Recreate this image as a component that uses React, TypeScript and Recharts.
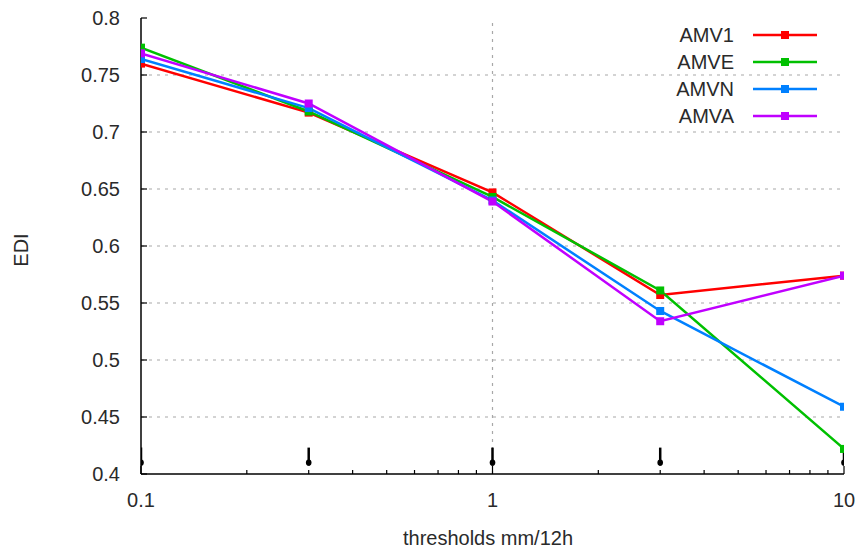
import React from "react";
import {
  ComposedChart,
  Line,
  Scatter,
  XAxis,
  YAxis,
  ReferenceLine,
  Legend,
} from "recharts";

const thresholds = [0.1, 0.3, 1, 3, 10];
const amv1 = [0.76, 0.717, 0.647, 0.557, 0.574];
const amve = [0.774, 0.718, 0.643, 0.561, 0.422];
const amvn = [0.764, 0.721, 0.64, 0.543, 0.459];
const amva = [0.769, 0.725, 0.639, 0.534, 0.574];
const markerLevel = [0.41, 0.41, 0.41, 0.41, 0.41];

const xTicks = [
  0.1, 0.2, 0.3, 0.4, 0.5, 0.6, 0.7, 0.8, 0.9, 1, 2, 3, 4, 5, 6, 7, 8, 9, 10,
];
const xLabels = [0.1, 1, 10];
const yTicks = [0.4, 0.45, 0.5, 0.55, 0.6, 0.65, 0.7, 0.75, 0.8];
const gridY = [0.45, 0.5, 0.55, 0.6, 0.65, 0.7, 0.75];

const series = [
  { key: "amv1", name: "AMV1", color: "#ff0000" },
  { key: "amve", name: "AMVE", color: "#00c000" },
  { key: "amvn", name: "AMVN", color: "#0080ff" },
  { key: "amva", name: "AMVA", color: "#c000ff" },
];

const data = thresholds.map((x, i) => ({
  x,
  amv1: amv1[i],
  amve: amve[i],
  amvn: amvn[i],
  amva: amva[i],
}));
const markers = thresholds.map((x, i) => ({ x, y: markerLevel[i] }));

const FONT = "'Liberation Sans', Arial, sans-serif";
const TEXT = "#2a2a2a";
const FS = 20;

const BottomTick = (props: any) => {
  const { x, y, payload } = props;
  const major = xLabels.includes(payload.value);
  return (
    <g>
      <line x1={x} x2={x} y1={y} y2={y - (major ? 8 : 4)} stroke="#000" strokeWidth={1.2} />
      {major && (
        <text x={x} y={y + 33} textAnchor="middle" fontSize={FS} fontFamily={FONT} fill={TEXT}>
          {payload.value}
        </text>
      )}
    </g>
  );
};

const TopTick = (props: any) => {
  const { x, y, payload } = props;
  const major = xLabels.includes(payload.value);
  return <line x1={x} x2={x} y1={y} y2={y + (major ? 8 : 4)} stroke="#000" strokeWidth={1.2} />;
};

const LeftTick = (props: any) => {
  const { x, y, payload } = props;
  return (
    <g>
      <line x1={x} x2={x + 6} y1={y} y2={y} stroke="#000" strokeWidth={1.2} />
      <text x={x - 21} y={y + 7} textAnchor="end" fontSize={FS} fontFamily={FONT} fill={TEXT}>
        {payload.value}
      </text>
    </g>
  );
};

const RightTick = (props: any) => {
  const { x, y } = props;
  return <line x1={x - 6} x2={x} y1={y} y2={y} stroke="#000" strokeWidth={1.2} />;
};

const SquareDot = (color: string) => (props: any) => {
  const { cx, cy, index } = props;
  if (cx == null || cy == null) return <g key={index} />;
  return <rect key={index} x={cx - 4} y={cy - 4} width={8} height={8} fill={color} />;
};

const ArrowMark = (props: any) => {
  const { cx, cy } = props;
  return (
    <g>
      <line x1={cx} x2={cx} y1={cy - 15} y2={cy + 3} stroke="#000" strokeWidth={2.5} />
      <ellipse cx={cx} cy={cy} rx={2.8} ry={3.2} fill="#000" />
    </g>
  );
};

const LegendBox = () => (
  <svg width={200} height={115}>
    {series.map((s, i) => {
      const cy = 13 + i * 27;
      return (
        <g key={s.key}>
          <text x={94} y={cy + 7} textAnchor="end" fontSize={FS} fontFamily={FONT} fill={TEXT}>
            {s.name}
          </text>
          <line x1={113} x2={177} y1={cy} y2={cy} stroke={s.color} strokeWidth={2.5} />
          <rect x={141} y={cy - 4} width={8} height={8} fill={s.color} />
        </g>
      );
    })}
  </svg>
);

export default function App() {
  return (
    <div style={{ position: "absolute", left: 0, top: 0, background: "#fff" }}>
      <ComposedChart
        width={859}
        height={550}
        data={data}
        margin={{ top: 18, right: 15, left: 0, bottom: 0 }}
      >
        <XAxis
          dataKey="x"
          type="number"
          scale="log"
          domain={[0.1, 10]}
          ticks={xTicks}
          interval={0}
          allowDataOverflow
          height={76}
          tickSize={0}
          tickMargin={0}
          tickLine={false}
          tick={<BottomTick />}
          axisLine={{ stroke: "#000", strokeWidth: 1.5 }}
          label={{
            content: () => (
              <text x={488} y={545} textAnchor="middle" fontSize={FS} fontFamily={FONT} fill={TEXT}>
                thresholds mm/12h
              </text>
            ),
          }}
        />
        <XAxis
          xAxisId="top"
          dataKey="x"
          type="number"
          scale="log"
          domain={[0.1, 10]}
          ticks={xTicks}
          interval={0}
          allowDataOverflow
          orientation="top"
          height={0}
          tickSize={0}
          tickMargin={0}
          tickLine={false}
          tick={<TopTick />}
          axisLine={{ stroke: "#000", strokeWidth: 1.5 }}
        />
        <YAxis
          type="number"
          domain={[0.4, 0.8]}
          ticks={yTicks}
          interval={0}
          allowDataOverflow
          width={141}
          tickSize={0}
          tickMargin={0}
          tickLine={false}
          tick={<LeftTick />}
          axisLine={{ stroke: "#000", strokeWidth: 1.5 }}
          label={{
            content: () => (
              <text
                x={28}
                y={250}
                textAnchor="middle"
                fontSize={FS}
                fontFamily={FONT}
                fill={TEXT}
                transform="rotate(-90 28 250)"
              >
                EDI
              </text>
            ),
          }}
        />
        <YAxis
          yAxisId="right"
          orientation="right"
          type="number"
          domain={[0.4, 0.8]}
          ticks={yTicks}
          interval={0}
          width={0}
          tickSize={0}
          tickMargin={0}
          tickLine={false}
          tick={<RightTick />}
          axisLine={{ stroke: "#000", strokeWidth: 1.5 }}
        />
        {gridY.map((v) => (
          <ReferenceLine key={v} y={v} stroke="#a8a8a8" strokeDasharray="3 5" strokeWidth={1.2} />
        ))}
        <ReferenceLine x={1} stroke="#a8a8a8" strokeDasharray="3 5" strokeWidth={1.2} />
        <Legend
          layout="horizontal"
          verticalAlign="middle"
          align="center"
          content={<LegendBox />}
          wrapperStyle={{ position: "absolute", left: 640, top: 22, width: 200, height: 115 }}
        />
        {series.map((s) => (
          <Line
            key={s.key}
            dataKey={s.key}
            name={s.name}
            stroke={s.color}
            strokeWidth={2.5}
            dot={SquareDot(s.color)}
            activeDot={false}
            isAnimationActive={false}
            legendType="none"
          />
        ))}
        <Scatter
          data={markers}
          dataKey="y"
          shape={<ArrowMark />}
          isAnimationActive={false}
          legendType="none"
        />
      </ComposedChart>
    </div>
  );
}
